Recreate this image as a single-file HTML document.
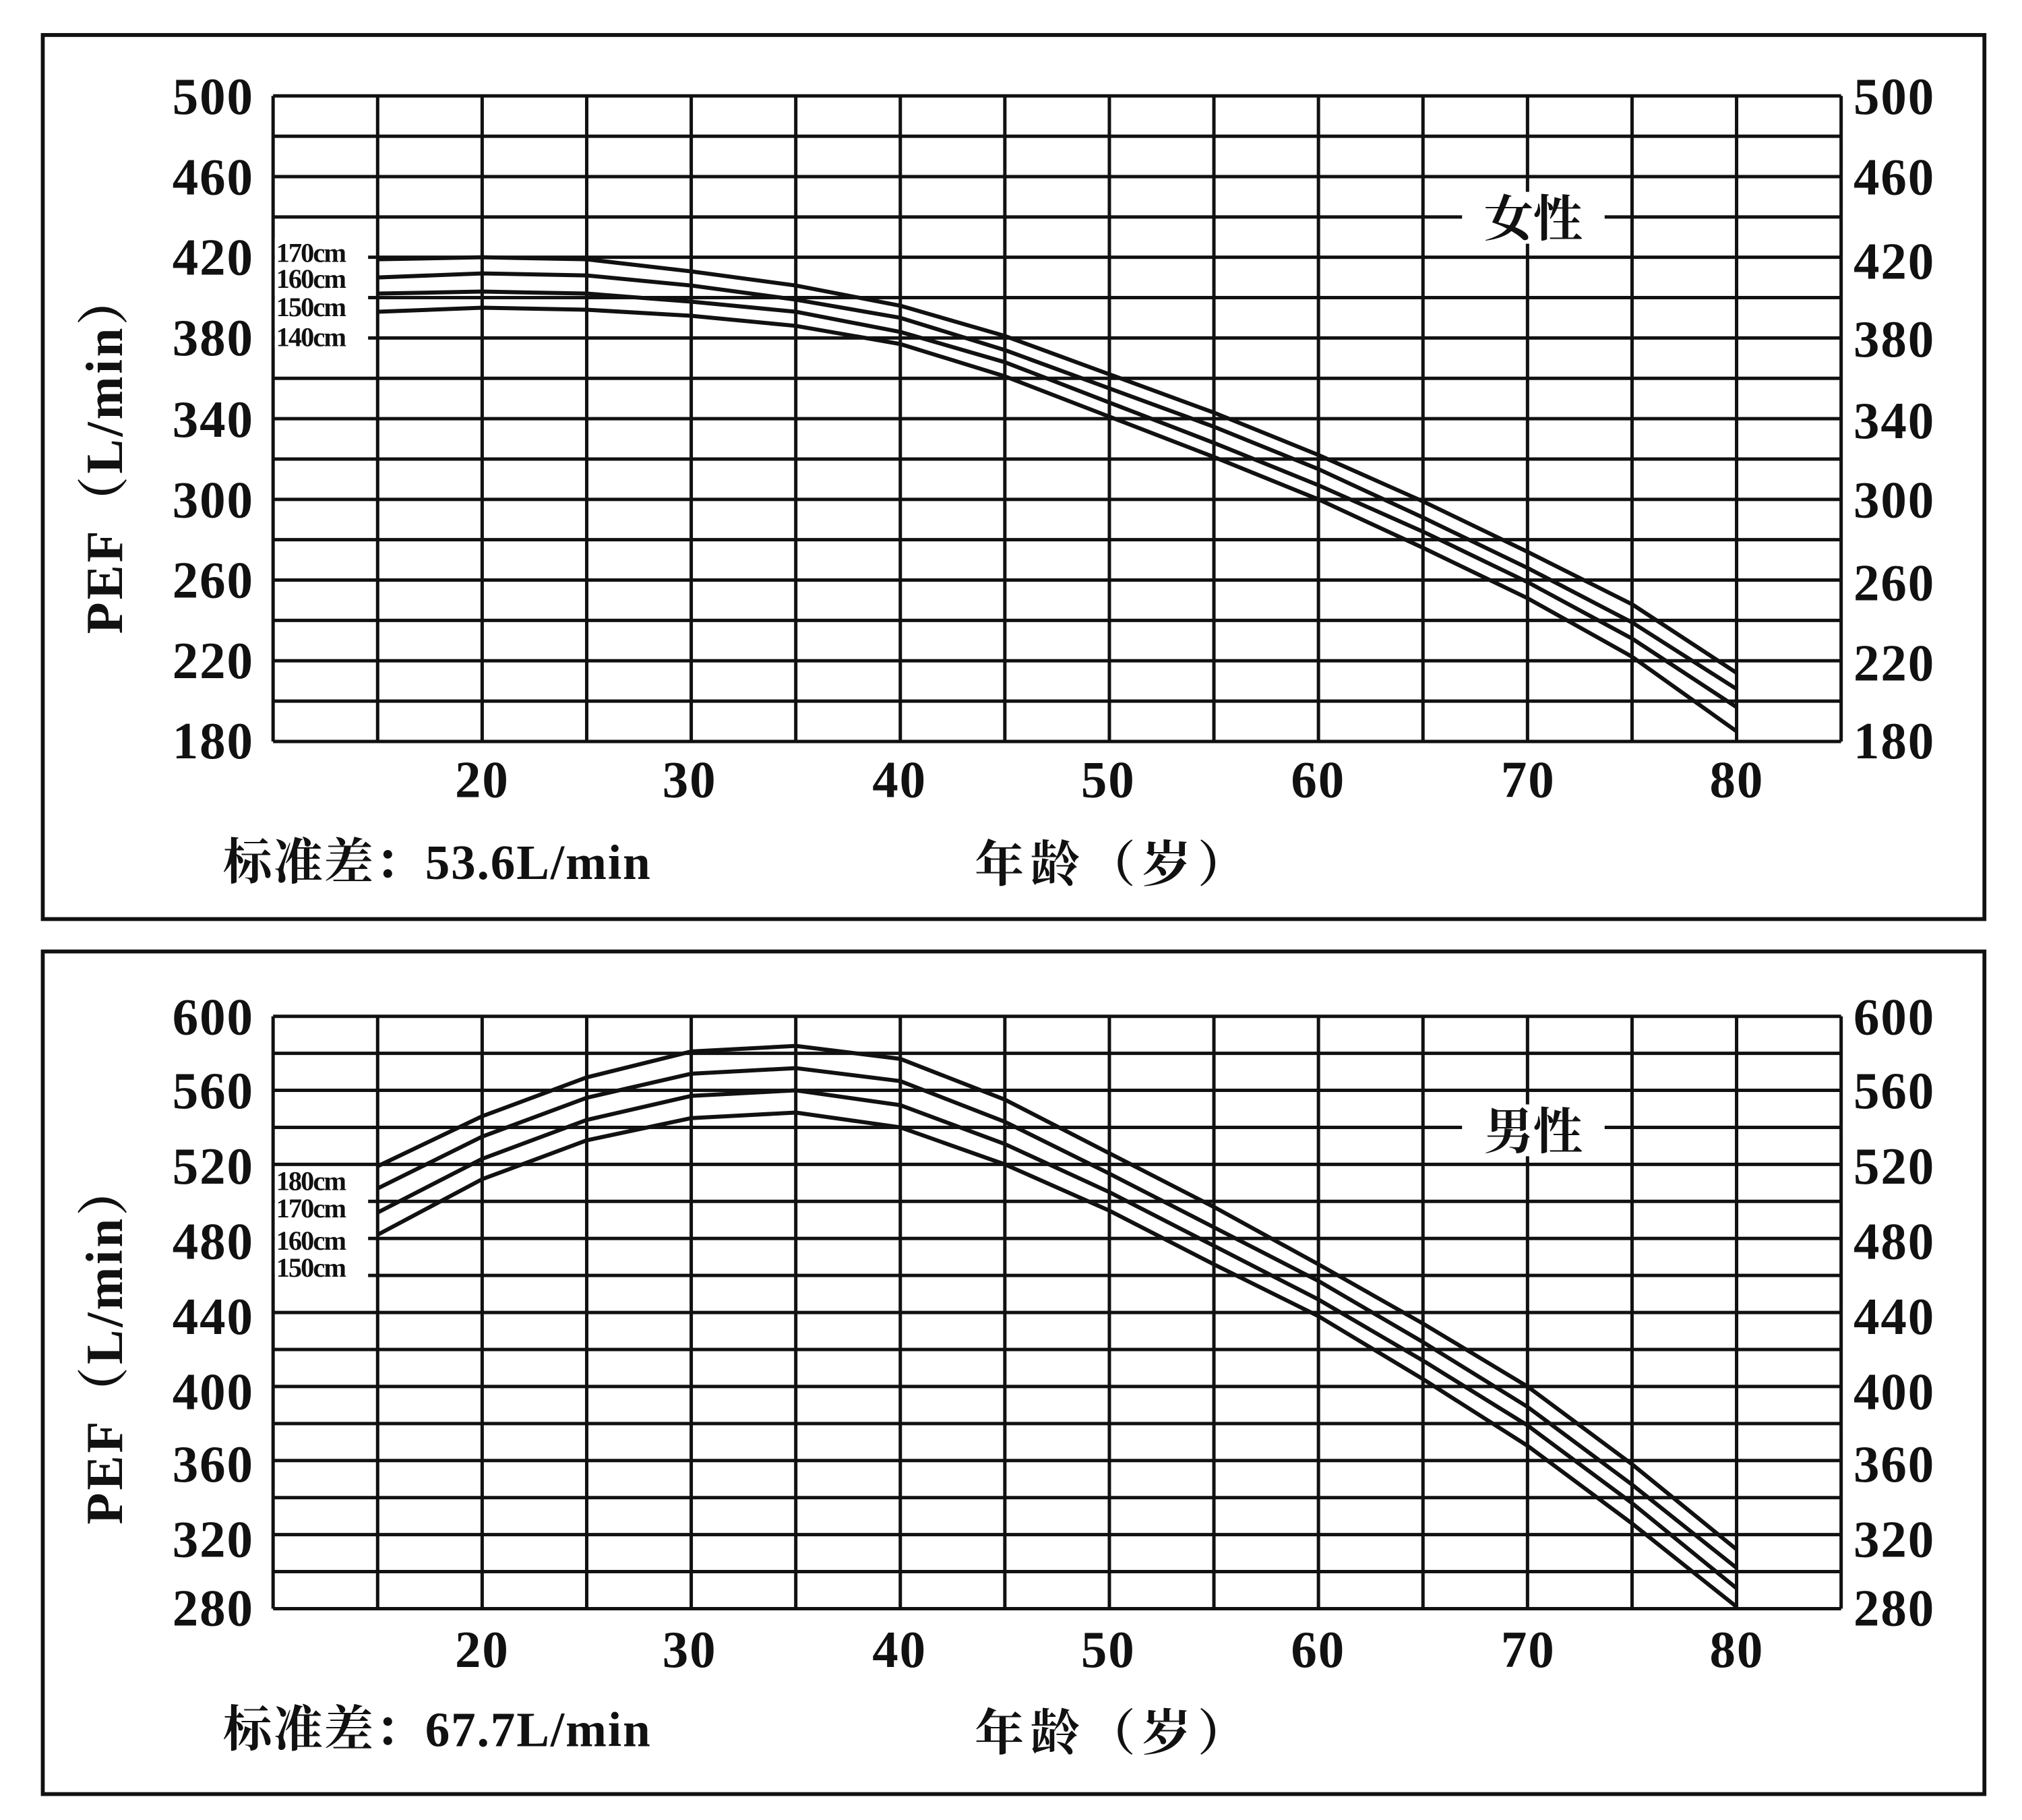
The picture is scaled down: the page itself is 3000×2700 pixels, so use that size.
<!DOCTYPE html>
<html><head><meta charset="utf-8"><style>
html,body{margin:0;padding:0;background:#fff;}
svg{display:block}
.n{font-family:"Liberation Serif","Noto Serif CJK SC",serif;font-weight:bold;font-size:40px;fill:#111;letter-spacing:1px}
.c{font-family:"Liberation Serif","Noto Serif CJK SC",serif;font-weight:bold;font-size:38px;fill:#111}
.s{font-family:"Liberation Serif",serif;font-weight:bold;font-size:21px;fill:#111;letter-spacing:-1px}
.g{fill:none;stroke:#111;stroke-width:5;vector-effect:non-scaling-stroke}
.cv{fill:none;stroke:#111;stroke-width:6;vector-effect:non-scaling-stroke;stroke-linejoin:round}
</style></head><body>
<svg width="3000" height="2700" viewBox="0 0 1560 1404" preserveAspectRatio="none" xmlns="http://www.w3.org/2000/svg">
<rect x="0" y="0" width="1560" height="1404" fill="#fff"/>
<rect x="33" y="27" width="1498" height="682" fill="none" stroke="#111" stroke-width="3"/>
<rect x="33" y="734" width="1498" height="650" fill="none" stroke="#111" stroke-width="3"/>

<!-- TOP -->
<g transform="matrix(16.13 0 0 -1.55625 49.4 852.1)">
<path class="g" d="M10 180V500M15 180V500M20 180V500M25 180V500M30 180V500M35 180V500M40 180V500M45 180V500M50 180V500M55 180V500M60 180V500M65 180V500M70 180V500M75 180V500M80 180V500M85 180V500
M10 180H85M10 200H85M10 220H85M10 240H85M10 260H85M10 280H85M10 300H85M10 320H85M10 340H85M10 360H85M10 380H85M10 400H85M10 420H85M10 440H85M10 460H85M10 480H85M10 500H85"/>
<polyline class="cv" points="15,419 20,420 25,419 30,413 35,406 40,396 45,381 50,362 55,343 60,322 65,299 70,274 75,248 80,214"/>
<polyline class="cv" points="15,410 20,412 25,411 30,406 35,399 40,390 45,374 50,355 55,336 60,315 65,291 70,266 75,239 80,206"/>
<polyline class="cv" points="15,402 20,403 25,402 30,398 35,393 40,383 45,368 50,348 55,328 60,307 65,284 70,259 75,231 80,197"/>
<polyline class="cv" points="15,393 20,395 25,394 30,391 35,386 40,377 45,361 50,341 55,321 60,300 65,276 70,251 75,222 80,185"/>
</g>
<rect x="1128" y="148" width="110" height="40" fill="#fff"/>
<text class="c" x="1183" y="182" text-anchor="middle">女性</text>
<rect x="212" y="184" width="72" height="84" fill="#fff"/>
<text class="s" x="213" y="202">170cm</text>
<text class="s" x="213" y="222">160cm</text>
<text class="s" x="213" y="244">150cm</text>
<text class="s" x="213" y="267">140cm</text>
<g class="n" text-anchor="end">
<text x="196" y="88">500</text><text x="196" y="150">460</text><text x="196" y="212">420</text><text x="196" y="274">380</text><text x="196" y="337">340</text><text x="196" y="399">300</text><text x="196" y="461">260</text><text x="196" y="523">220</text><text x="196" y="585">180</text>
</g>
<g class="n">
<text x="1430" y="88">500</text><text x="1430" y="150">460</text><text x="1430" y="215">420</text><text x="1430" y="275">380</text><text x="1430" y="338">340</text><text x="1430" y="399">300</text><text x="1430" y="463">260</text><text x="1430" y="525">220</text><text x="1430" y="585">180</text>
</g>
<g class="n" text-anchor="middle">
<text x="372" y="615">20</text><text x="532" y="615">30</text><text x="694" y="615">40</text><text x="855" y="615">50</text><text x="1017" y="615">60</text><text x="1179" y="615">70</text><text x="1340" y="615">80</text>
</g>
<text class="c" transform="translate(94 349) rotate(-90)" text-anchor="middle" style="font-size:40px;letter-spacing:2px">PEF（L/min）</text>
<text class="c" x="172" y="678" style="letter-spacing:1px">标准差：53.6L/min</text>
<text class="c" x="752" y="680" style="letter-spacing:5px">年龄（岁）</text>

<!-- BOTTOM -->
<g transform="matrix(16.13 0 0 -1.428 49.4 1640.8)">
<path class="g" d="M10 280V600M15 280V600M20 280V600M25 280V600M30 280V600M35 280V600M40 280V600M45 280V600M50 280V600M55 280V600M60 280V600M65 280V600M70 280V600M75 280V600M80 280V600M85 280V600
M10 280H85M10 300H85M10 320H85M10 340H85M10 360H85M10 380H85M10 400H85M10 420H85M10 440H85M10 460H85M10 480H85M10 500H85M10 520H85M10 540H85M10 560H85M10 580H85M10 600H85"/>
<polyline class="cv" points="15,519 20,546 25,567 30,581 35,584 40,577 45,555 50,526 55,497 60,466 65,434 70,400 75,358 80,312"/>
<polyline class="cv" points="15,507 20,535 25,556 30,569 35,572 40,565 45,543 50,515 55,486 60,457 65,424 70,389 75,347 80,302"/>
<polyline class="cv" points="15,494 20,523 25,544 30,557 35,560 40,552 45,531 50,505 55,476 60,447 65,414 70,379 75,337 80,291"/>
<polyline class="cv" points="15,482 20,512 25,533 30,545 35,548 40,540 45,520 50,495 55,466 60,438 65,404 70,368 75,326 80,281"/>
</g>
<rect x="1128" y="852" width="110" height="40" fill="#fff"/>
<text class="c" x="1183" y="886" text-anchor="middle">男性</text>
<rect x="212" y="900" width="72" height="86" fill="#fff"/>
<text class="s" x="213" y="918">180cm</text>
<text class="s" x="213" y="939">170cm</text>
<text class="s" x="213" y="964">160cm</text>
<text class="s" x="213" y="985">150cm</text>
<g class="n" text-anchor="end">
<text x="196" y="798">600</text><text x="196" y="855">560</text><text x="196" y="913">520</text><text x="196" y="971">480</text><text x="196" y="1029">440</text><text x="196" y="1087">400</text><text x="196" y="1143">360</text><text x="196" y="1201">320</text><text x="196" y="1254">280</text>
</g>
<g class="n">
<text x="1430" y="798">600</text><text x="1430" y="855">560</text><text x="1430" y="913">520</text><text x="1430" y="971">480</text><text x="1430" y="1029">440</text><text x="1430" y="1087">400</text><text x="1430" y="1143">360</text><text x="1430" y="1201">320</text><text x="1430" y="1254">280</text>
</g>
<g class="n" text-anchor="middle">
<text x="372" y="1286">20</text><text x="532" y="1286">30</text><text x="694" y="1286">40</text><text x="855" y="1286">50</text><text x="1017" y="1286">60</text><text x="1179" y="1286">70</text><text x="1340" y="1286">80</text>
</g>
<text class="c" transform="translate(94 1036) rotate(-90)" text-anchor="middle" style="font-size:40px;letter-spacing:2px">PEF（L/min）</text>
<text class="c" x="172" y="1347" style="letter-spacing:1px">标准差：67.7L/min</text>
<text class="c" x="752" y="1350" style="letter-spacing:5px">年龄（岁）</text>
</svg>
</body></html>
